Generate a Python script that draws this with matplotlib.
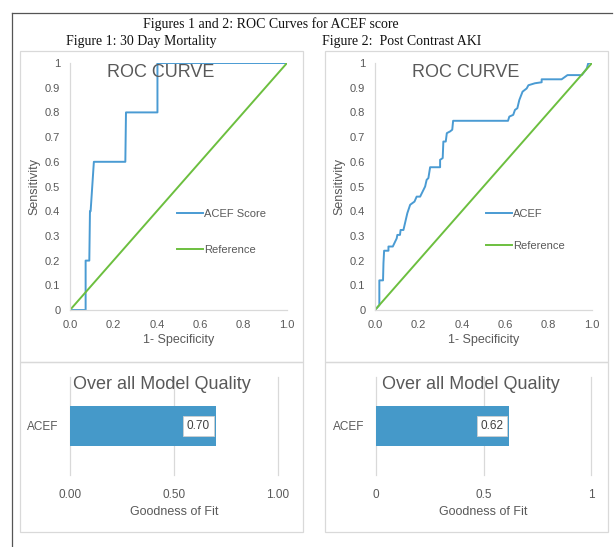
import matplotlib
matplotlib.use("Agg")
import matplotlib.pyplot as plt
from matplotlib.patches import Rectangle
from matplotlib.lines import Line2D

# ROC data
roc1_fpr = [0, 0.072, 0.072, 0.089, 0.092, 0.095, 0.11, 0.255, 0.258, 0.403, 0.403, 1.0]
roc1_tpr = [0, 0, 0.2, 0.2, 0.4, 0.4, 0.6, 0.6, 0.8, 0.8, 1.0, 1.0]

roc2_fpr = [0, 0.02, 0.02, 0.037, 0.039, 0.042, 0.062, 0.062, 0.082, 0.10, 0.103, 0.115,
            0.118, 0.131, 0.149, 0.162, 0.182, 0.192, 0.208, 0.231, 0.238, 0.246, 0.254,
            0.3, 0.3, 0.312, 0.315, 0.326, 0.331, 0.346, 0.356, 0.36, 0.613, 0.619, 0.637,
            0.645, 0.656, 0.665, 0.68, 0.699, 0.707, 0.737, 0.768, 0.768, 0.86, 0.887,
            0.953, 0.976, 0.983, 1.0]
roc2_tpr = [0, 0.02, 0.12, 0.12, 0.19, 0.24, 0.24, 0.257, 0.257, 0.29, 0.304, 0.304,
            0.324, 0.324, 0.392, 0.426, 0.439, 0.459, 0.459, 0.5, 0.527, 0.534, 0.578,
            0.578, 0.608, 0.615, 0.682, 0.682, 0.716, 0.723, 0.73, 0.766, 0.766, 0.783, 0.79,
            0.81, 0.817, 0.85, 0.884, 0.897, 0.91, 0.918, 0.922, 0.934, 0.934, 0.951,
            0.951, 0.978, 1.0, 1.0]

ref_x = [0, 1]
ref_y = [0, 1]

model_names = ["ACEF"]
fit1 = [0.70]
fit2 = [0.62]

W, H = 614, 547
BLUE = "#4a9bd3"
BAR = "#4599c9"
GREEN = "#6cbf3f"
GRAY = "#595959"
LIGHT = "#d9d9d9"
SANS = "Liberation Sans"
SERIF = "Liberation Serif"

fig = plt.figure(figsize=(W / 100, H / 100), dpi=100)


def px_axes(left, top, right, bottom, **kw):
    return fig.add_axes([left / W, 1 - bottom / H, (right - left) / W, (bottom - top) / H], **kw)


# outer frame (left and top only visible)
fig.add_artist(Line2D([12 / W, 12 / W], [1 - 13 / H, 0], color="#555555", lw=0.9))
fig.add_artist(Line2D([12 / W, 612 / W], [1 - 13 / H, 1 - 13 / H], color="#555555", lw=0.9))

# panel boxes
for (l, t, r, b) in [(20, 51, 303, 362), (20, 362, 303, 532), (325, 51, 608, 362), (325, 362, 608, 532)]:
    fig.add_artist(Rectangle((l / W, 1 - b / H), (r - l) / W, (b - t) / H,
                             fill=False, ec=LIGHT, lw=0.9))

fig.text(271 / W, 1 - 24 / H, "Figures 1 and 2: ROC Curves for ACEF score",
         ha="center", va="center", fontsize=10, family=SERIF, color="#111111")
fig.text(141 / W, 1 - 41 / H, "Figure 1: 30 Day Mortality",
         ha="center", va="center", fontsize=10, family=SERIF, color="#111111")
fig.text(402 / W, 1 - 41 / H, "Figure 2:  Post Contrast AKI",
         ha="center", va="center", fontsize=10, family=SERIF, color="#111111")


def roc_panel(left, right, fpr, tpr, label, leg_x, leg_space):
    ax = px_axes(left, 63, right, 310)
    ax.plot(fpr, tpr, color=BLUE, lw=1.4, label=label)
    ax.plot(ref_x, ref_y, color=GREEN, lw=1.4, label="Reference")
    ax.set_xlim(0, 1)
    ax.set_ylim(0, 1)
    ax.set_xticks([0, 0.2, 0.4, 0.6, 0.8, 1.0])
    ax.set_xticklabels(["0.0", "0.2", "0.4", "0.6", "0.8", "1.0"])
    ax.set_yticks([i / 10 for i in range(11)])
    ax.set_yticklabels(["0"] + ["0.%d" % i for i in range(1, 10)] + ["1"])
    for s in ["top", "right"]:
        ax.spines[s].set_visible(False)
    for s in ["left", "bottom"]:
        ax.spines[s].set_color(LIGHT)
        ax.spines[s].set_linewidth(0.9)
    ax.tick_params(length=0, labelsize=8, colors=GRAY, pad=7)
    for t in ax.get_xticklabels() + ax.get_yticklabels():
        t.set_family(SANS)
    ax.set_xlabel("1- Specificity", fontsize=9, color=GRAY, family=SANS, labelpad=3)
    ax.set_ylabel("Sensitivity", fontsize=9, color=GRAY, family=SANS, labelpad=3)
    ax.text(0.42, 0.96, "ROC CURVE", transform=ax.transAxes, ha="center", va="center",
            fontsize=13, color=GRAY, family=SANS)
    leg = ax.legend(loc="upper left", bbox_to_anchor=(leg_x, 0.409), frameon=False,
                    borderpad=0, borderaxespad=0, handlelength=2.3, handletextpad=0.15,
                    labelspacing=leg_space, prop={"family": SANS, "size": 8})
    for t in leg.get_texts():
        t.set_color(GRAY)
    return ax


roc_panel(70, 287, roc1_fpr, roc1_tpr, "ACEF Score", 0.493, 2.35)
roc_panel(375, 592, roc2_fpr, roc2_tpr, "ACEF", 0.512, 2.0)


def bar_panel(left, right, values, ticklabels):
    ax = px_axes(left, 377, right, 475)
    ax.barh(model_names, values, height=0.4, color=BAR)
    ax.set_xlim(0, 1)
    ax.set_ylim(-0.5, 0.5)
    ax.set_xticks([0, 0.5, 1.0])
    ax.set_xticklabels(ticklabels)
    ax.grid(axis="x", color=LIGHT, lw=0.9)
    for gl in ax.get_xgridlines():
        gl.set_clip_on(False)
    ax.set_axisbelow(True)
    for s in ax.spines.values():
        s.set_visible(False)
    ax.tick_params(length=0, labelsize=8.5, colors=GRAY)
    ax.tick_params(axis="x", pad=10)
    ax.tick_params(axis="y", pad=8)
    for t in ax.get_xticklabels() + ax.get_yticklabels():
        t.set_family(SANS)
    ax.set_xlabel("Goodness of Fit", fontsize=9, color=GRAY, family=SANS, labelpad=4)
    ax.text(0.44, 0.92, "Over all Model Quality", transform=ax.transAxes, ha="center",
            va="center", fontsize=13, color=GRAY, family=SANS)
    for i, v in enumerate(values):
        ax.annotate("%.2f" % v, xy=(v, i), xytext=(-4, 0), textcoords="offset points",
                    ha="right", va="center", fontsize=8.5, color="#404040", family=SANS,
                    bbox=dict(boxstyle="square,pad=0.3", fc="white", ec="#cfcfcf", lw=0.6))
    return ax


bar_panel(70, 278, fit1, ["0.00", "0.50", "1.00"])
bar_panel(376, 591, fit2, ["0", "0.5", "1"])

fig.savefig("out.png", dpi=100, facecolor="white")
